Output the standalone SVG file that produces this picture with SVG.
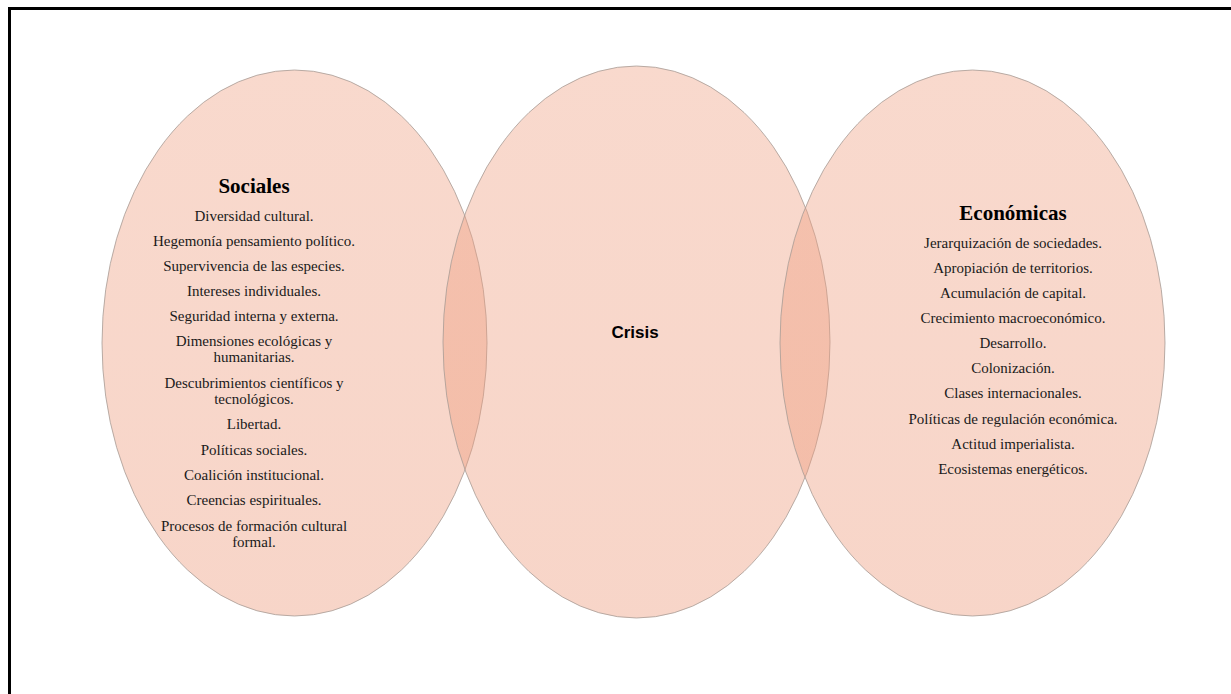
<svg xmlns="http://www.w3.org/2000/svg" width="1231" height="694" viewBox="0 0 1231 694">
  <defs>
    <linearGradient id="peach" x1="0" y1="0" x2="0" y2="1">
      <stop offset="0" stop-color="rgb(239,160,130)"/>
      <stop offset="1" stop-color="rgb(236,150,118)"/>
    </linearGradient>
  </defs>
  <style>
    .circle { fill: url(#peach); fill-opacity: 0.4; stroke: #a89c96; stroke-opacity: 0.8; stroke-width: 1; }
    .title { font-family: "Liberation Serif", "Times New Roman", serif; font-weight: bold; font-size: 21px; fill: #000; text-anchor: middle; }
    .item { font-family: "Liberation Serif", "Times New Roman", serif; font-size: 15px; fill: #1a1a1a; text-anchor: middle; }
    .crisis { font-family: "Liberation Sans", Arial, sans-serif; font-weight: bold; font-size: 17px; fill: #000; text-anchor: middle; }
  </style>
  <rect x="0" y="0" width="1231" height="694" fill="#ffffff"/>
  <path d="M9.5,694 V8.5 H1231" fill="none" stroke="#000" stroke-width="3"/>

  <g id="node-sociales">
    <ellipse class="circle" cx="294.5" cy="343" rx="192.5" ry="273"/>
    <text class="title" x="254" y="193">Sociales</text>
    <text class="item" x="254" y="221">Diversidad cultural.</text>
    <text class="item" x="254" y="246">Hegemonía pensamiento político.</text>
    <text class="item" x="254" y="271">Supervivencia de las especies.</text>
    <text class="item" x="254" y="296">Intereses individuales.</text>
    <text class="item" x="254" y="321">Seguridad interna y externa.</text>
    <text class="item" x="254" y="346">Dimensiones ecológicas y</text>
    <text class="item" x="254" y="362">humanitarias.</text>
    <text class="item" x="254" y="388">Descubrimientos científicos y</text>
    <text class="item" x="254" y="404">tecnológicos.</text>
    <text class="item" x="254" y="429">Libertad.</text>
    <text class="item" x="254" y="455">Políticas sociales.</text>
    <text class="item" x="254" y="480">Coalición institucional.</text>
    <text class="item" x="254" y="505">Creencias espirituales.</text>
    <text class="item" x="254" y="531">Procesos de formación cultural</text>
    <text class="item" x="254" y="547">formal.</text>
  </g>

  <g id="node-crisis">
    <ellipse class="circle" cx="636.5" cy="342" rx="193.5" ry="276"/>
    <text class="crisis" x="635" y="338">Crisis</text>
  </g>

  <g id="node-economicas">
    <ellipse class="circle" cx="972.5" cy="343" rx="192.5" ry="273"/>
    <text class="title" x="1013" y="220">Económicas</text>
    <text class="item" x="1013" y="248">Jerarquización de sociedades.</text>
    <text class="item" x="1013" y="273">Apropiación de territorios.</text>
    <text class="item" x="1013" y="298">Acumulación de capital.</text>
    <text class="item" x="1013" y="323">Crecimiento macroeconómico.</text>
    <text class="item" x="1013" y="348">Desarrollo.</text>
    <text class="item" x="1013" y="373">Colonización.</text>
    <text class="item" x="1013" y="398">Clases internacionales.</text>
    <text class="item" x="1013" y="424">Políticas de regulación económica.</text>
    <text class="item" x="1013" y="449">Actitud imperialista.</text>
    <text class="item" x="1013" y="474">Ecosistemas energéticos.</text>
  </g>

  <g id="connectors"></g>
</svg>
